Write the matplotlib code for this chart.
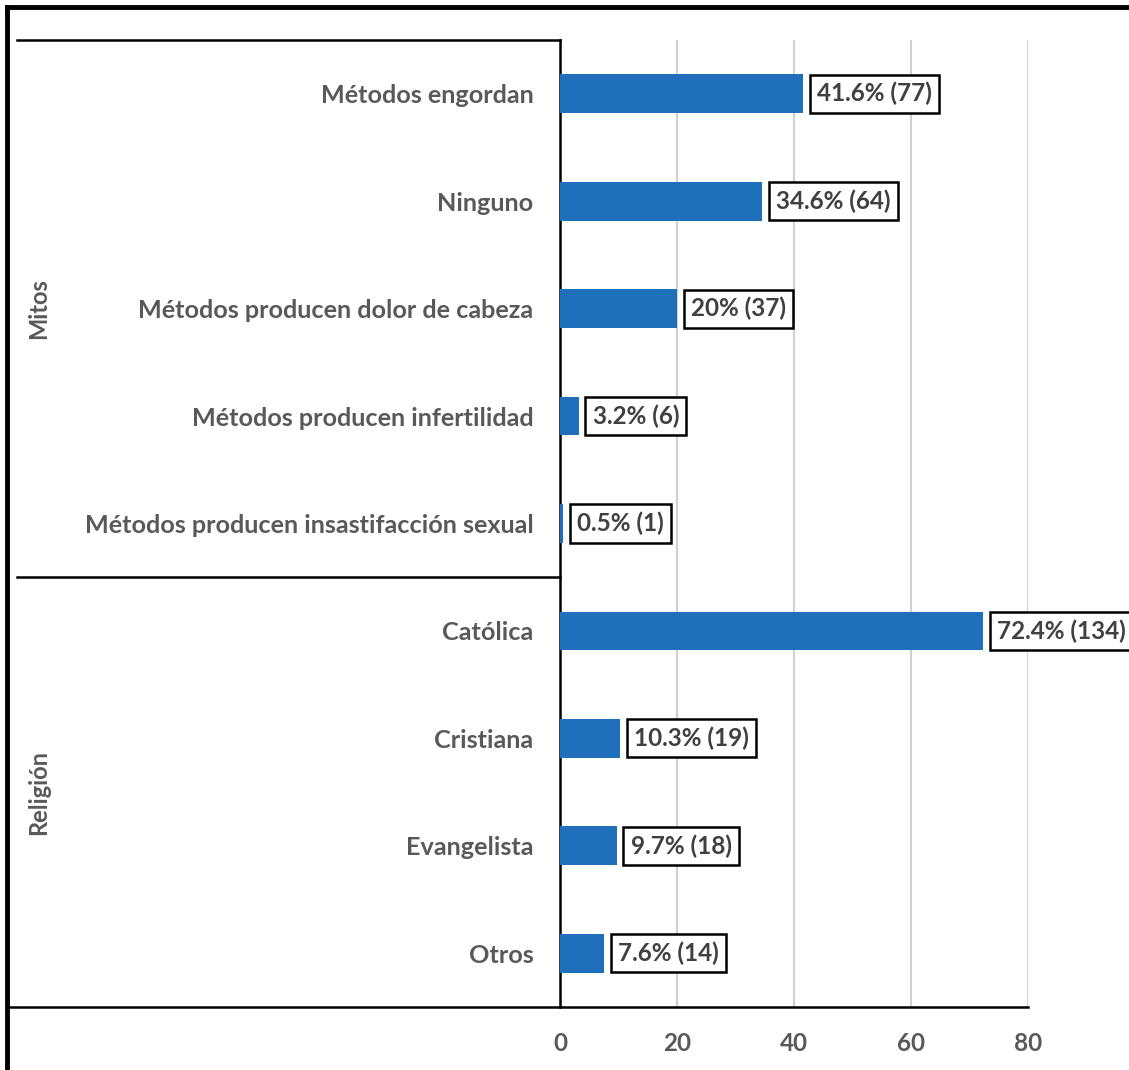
import matplotlib
matplotlib.use("Agg")

import matplotlib.pyplot as plt
from matplotlib.lines import Line2D

cats = [
    "Métodos engordan",
    "Ninguno",
    "Métodos producen dolor de cabeza",
    "Métodos producen infertilidad",
    "Métodos producen insastifacción sexual",
    "Católica",
    "Cristiana",
    "Evangelista",
    "Otros",
]
vals = [41.6, 34.6, 20, 3.2, 0.5, 72.4, 10.3, 9.7, 7.6]
labs = [
    "41.6% (77)",
    "34.6% (64)",
    "20% (37)",
    "3.2% (6)",
    "0.5% (1)",
    "72.4% (134)",
    "10.3% (19)",
    "9.7% (18)",
    "7.6% (14)",
]
groups = ["Mitos", "Religión"]
gsize = [5, 4]
xt = [0, 20, 40, 60, 80]

plt.rcParams["font.family"] = ["Lato", "DejaVu Sans"]

fig = plt.figure(figsize=(11.29, 10.70), dpi=100)
ax = fig.add_axes([0.496, 0.0589, 0.4145, 0.9037])

y = list(range(len(cats)))
ax.barh(y, vals, height=0.36, color="#1F70BA", zorder=3)

ax.set_xlim(0, 80)
ax.set_ylim(len(cats) - 0.5, -0.5)
ax.set_xticks(xt)
ax.set_xticklabels([str(t) for t in xt])
ax.set_yticks(y)
ax.set_yticklabels(cats)
ax.tick_params(axis="both", length=0, labelsize=17.5, labelcolor="#595959")
ax.tick_params(axis="y", labelsize=18.2)
ax.tick_params(axis="x", pad=18)
ax.tick_params(axis="y", pad=19)
for t in ax.get_xticklabels() + ax.get_yticklabels():
    t.set_fontweight("bold")

ax.grid(axis="x", color="#D0D0D0", lw=1.5, zorder=0)
for s in ["top", "right"]:
    ax.spines[s].set_visible(False)
ax.spines["left"].set_linewidth(1.8)
ax.spines["bottom"].set_visible(False)

# group separator lines and labels
ax.plot([-1.16, 0], [1, 1], transform=ax.transAxes, color="black", lw=1.8, clip_on=False)
ax.plot([-1.177, 1.0], [0, 0], transform=ax.transAxes, color="black", lw=1.8, clip_on=False, zorder=5)
st = 0
for g, n in zip(groups, gsize):
    if st > 0:
        yy = 1 - st / len(cats)
        ax.plot([-1.16, 0], [yy, yy], transform=ax.transAxes, color="black", lw=1.8, clip_on=False)
    yc = 1 - (st + n / 2) / len(cats)
    ax.text(-1.115, yc, g, transform=ax.transAxes, rotation=90, ha="center", va="center",
            fontsize=17, fontweight="bold", color="#595959")
    st += n

for yi, v, l in zip(y, vals, labs):
    ax.annotate(l, (v, yi), xytext=(10, 0), textcoords="offset points", ha="left", va="center",
                fontsize=17.5, fontweight="bold", color="#404040", zorder=6, annotation_clip=False,
                bbox=dict(boxstyle="square,pad=0.3", fc="white", ec="black", lw=1.8))

# outer frame (left and top only, picture is cropped)
fig.add_artist(Line2D([0.0062, 0.0062], [0, 0.9935], color="black", lw=3.5))
fig.add_artist(Line2D([0.0062, 1.0], [0.9935, 0.9935], color="black", lw=3.5))

fig.savefig("out.png", dpi=100)
